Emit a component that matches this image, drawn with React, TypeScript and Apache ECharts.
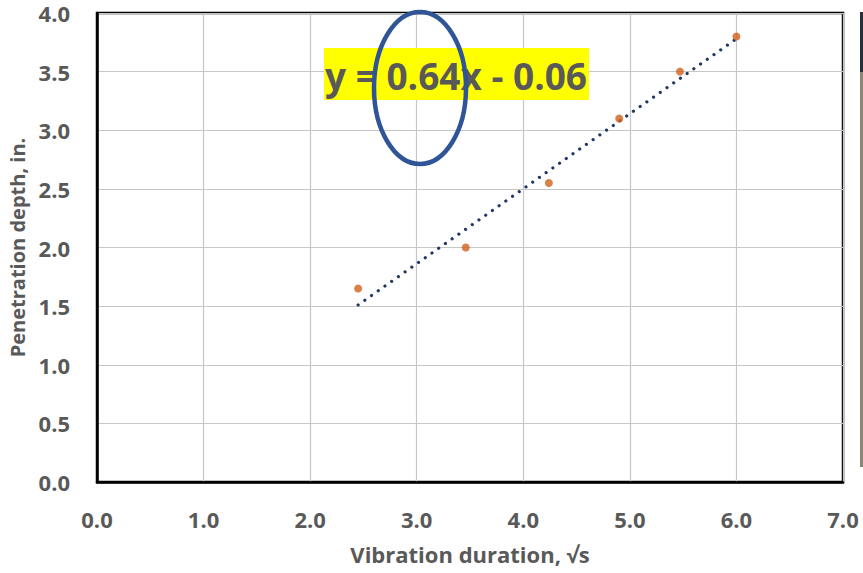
import React, { useEffect, useRef } from "react";
import * as echarts from "echarts";

const measuredX = [2.45, 3.46, 4.24, 4.9, 5.47, 6.0];
const measuredY = [1.65, 2.0, 2.55, 3.1, 3.5, 3.8];
const trendX = [2.45, 6.0];
const trendY = [1.51, 3.78];
const xTicks = [0, 1, 2, 3, 4, 5, 6, 7];
const yTicks = [0, 0.5, 1, 1.5, 2, 2.5, 3, 3.5, 4];
const equationText = "y = 0.64x - 0.06";
const xName = "Vibration duration, \u221As";
const yName = "Penetration depth, in.";

const FONT = "'Open Sans', 'Noto Sans', sans-serif";
const GRAY = "#595959";

export default function App() {
  const ref = useRef<HTMLDivElement>(null);
  useEffect(() => {
    document.body.style.margin = "0";
    if (!ref.current) return;
    const chart = echarts.init(ref.current, null, { renderer: "svg" });
    chart.setOption({
      animation: false,
      backgroundColor: "#ffffff",
      grid: {
        left: 97,
        top: 13,
        right: 20,
        bottom: 91,
        outerBoundsMode: "none",
        containLabel: false,
        show: true,
        borderColor: "#000000",
        borderWidth: 2.5,
        backgroundColor: "transparent",
      },
      xAxis: {
        type: "value",
        min: xTicks[0],
        max: xTicks[xTicks.length - 1],
        interval: 1,
        name: xName,
        nameLocation: "middle",
        nameGap: 61,
        nameTextStyle: { fontFamily: FONT, fontWeight: "bold", fontSize: 22, color: GRAY },
        axisLine: { show: true, lineStyle: { color: "#000", width: 2.5 } },
        axisTick: { show: false },
        axisLabel: {
          margin: 26,
          fontFamily: FONT,
          fontWeight: "bold",
          fontSize: 22,
          color: GRAY,
          formatter: (v: number) => v.toFixed(1),
        },
        splitLine: { show: true, lineStyle: { color: "#c6c6c6", width: 1.2 } },
      },
      yAxis: {
        type: "value",
        min: yTicks[0],
        max: yTicks[yTicks.length - 1],
        interval: 0.5,
        name: yName,
        nameLocation: "middle",
        nameGap: 67,
        nameRotate: 90,
        nameTextStyle: { fontFamily: FONT, fontWeight: "bold", fontSize: 20, color: GRAY },
        axisLine: { show: true, lineStyle: { color: "#000", width: 2.5 } },
        axisTick: { show: false },
        axisLabel: {
          margin: 27,
          fontFamily: FONT,
          fontWeight: "bold",
          fontSize: 22,
          lineHeight: 20,
          color: GRAY,
          formatter: (v: number) => v.toFixed(1),
        },
        splitLine: { show: true, lineStyle: { color: "#c6c6c6", width: 1.2 } },
      },
      series: [
        {
          type: "line",
          data: trendX.map((x, i) => [x, trendY[i]]),
          symbol: "none",
          lineStyle: { color: "#203864", width: 3.2, type: [0.01, 8.2], cap: "round" },
          z: 2,
        },
        {
          type: "scatter",
          data: measuredX.map((x, i) => [x, measuredY[i]]),
          symbol: "circle",
          symbolSize: 8,
          itemStyle: { color: "#D2601A" },
          z: 3,
        },
      ],
      graphic: [
        {
          type: "rect",
          shape: { x: 324, y: 48, width: 265, height: 52 },
          style: { fill: "#FFFF00" },
          z: 10,
        },
        {
          type: "text",
          x: 456,
          y: 75,
          style: {
            text: equationText,
            fontFamily: FONT,
            fontWeight: "bold",
            fontSize: 37,
            fill: GRAY,
            align: "center",
            verticalAlign: "middle",
          },
          z: 11,
        },
        {
          type: "ellipse",
          shape: { cx: 420, cy: 88, rx: 46, ry: 76 },
          style: { fill: "none", stroke: "#2F5597", lineWidth: 4.5 },
          z: 12,
        },
        {
          type: "rect",
          shape: { x: 860, y: 12, width: 3, height: 60 },
          style: { fill: "#2a2f3a" },
          z: 12,
        },
        {
          type: "rect",
          shape: { x: 860, y: 72, width: 3, height: 395 },
          style: { fill: "#8a8575" },
          z: 12,
        },
      ],
    });
    return () => chart.dispose();
  }, []);
  return <div ref={ref} style={{ width: 863, height: 573 }} />;
}
